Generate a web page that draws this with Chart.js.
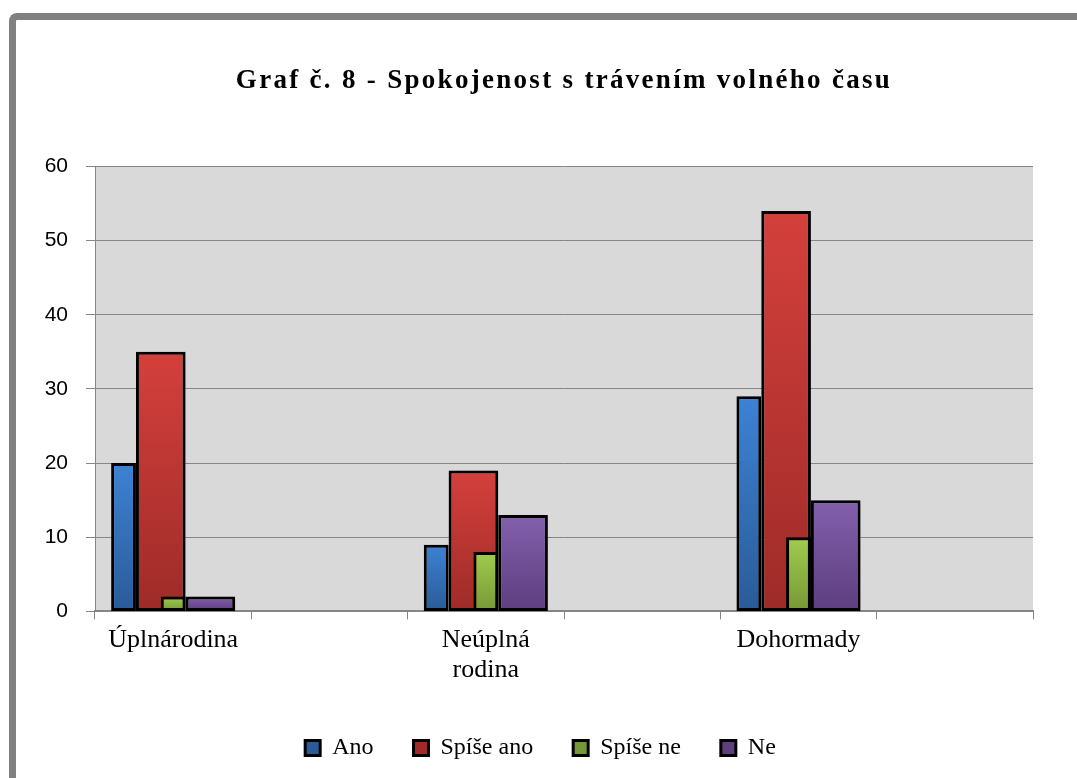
<!DOCTYPE html>
<html lang="cs">
<head>
<meta charset="utf-8">
<title>Graf č. 8 - Spokojenost s trávením volného času</title>
<script src="https://cdn.jsdelivr.net/npm/chart.js@4.4.1/dist/chart.umd.min.js"></script>
<style>
    html, body { margin: 0; padding: 0; background: #fff; }
    #wrap { position: relative; width: 1077px; height: 778px; overflow: hidden; }
    #graf { position: absolute; left: 0; top: 0; }
    /* šedý rámeček vlevo a nahoře */
    .ramecek {
        position: absolute; left: 9px; top: 13px; width: 1200px; height: 900px;
        border-left: 7px solid #808080; border-top: 7px solid #808080;
        border-top-left-radius: 8px; pointer-events: none;
    }
</style>
</head>
<body>
<div id="wrap">
    <canvas id="graf" width="1077" height="778"></canvas>
    <div class="ramecek"></div>
</div>
<script>
// ── Data ──
const kategorie = ['Úplnárodina', ['Neúplná', 'rodina'], 'Dohormady'];
const serie     = ['Ano', 'Spíše ano', 'Spíše ne', 'Ne'];
const ano       = [20, 9, 29];
const spiseAno  = [35, 19, 54];
const spiseNe   = [2, 8, 10];
const ne        = [2, 13, 15];
const osaY      = { min: 0, max: 60, krok: 10 };

// Excel graf má za každou skupinou prázdnou kategorii
const rozlozit = arr => arr.flatMap(v => [v, null]);
const popisky  = kategorie.flatMap(k => [k, '']);

// ── Barvy (přechod shora dolů) ──
function vyplnSloupce(horni, dolni, legenda) {
    return c => {
        const chart = c.chart;
        if (c.type !== 'data' || !chart.chartArea || c.raw == null) return legenda;
        const y = chart.scales.y;
        const g = chart.ctx.createLinearGradient(0, y.getPixelForValue(c.raw), 0, y.getPixelForValue(0));
        g.addColorStop(0, horni);
        g.addColorStop(1, dolni);
        return g;
    };
}

// 11 "půlslotů" ve skupině, sloupce sedí přes více slotů (jako v originále)
const POCET_SLOTU = 11;
const mezery = Array.from({ length: POCET_SLOTU }, (_, i) => ({
    label: '', data: [], stack: 's' + i
}));

const spolecne = { borderColor: '#000', borderWidth: 3, borderSkipped: false };

const datasets = [
    ...mezery,
    { ...spolecne, label: serie[0], data: rozlozit(ano),      stack: 's1', barPercentage: 2,
      backgroundColor: vyplnSloupce('#3d82d4', '#2a5b98', '#3774c0') },
    { ...spolecne, label: serie[2], data: rozlozit(spiseNe),  stack: 's5', barPercentage: 2,
      backgroundColor: vyplnSloupce('#a0cc4e', '#779836', '#8db441') },
    { ...spolecne, label: serie[1], data: rozlozit(spiseAno), stack: 's4', barPercentage: 4,
      backgroundColor: vyplnSloupce('#d4403c', '#9e2b28', '#c03834') },
    { ...spolecne, label: serie[3], data: rozlozit(ne),       stack: 's8', barPercentage: 4,
      backgroundColor: vyplnSloupce('#8360ad', '#5d3e7e', '#724f98') }
];

// ── Pozadí plochy + stín sloupců ──
const pozadiPlochy = {
    id: 'pozadiPlochy',
    beforeDraw(chart) {
        const { ctx, chartArea: a } = chart;
        ctx.save();
        ctx.fillStyle = '#d9d9d9';
        ctx.fillRect(a.left, a.top, a.right - a.left, a.bottom - a.top);
        ctx.restore();
    },
    beforeDatasetsDraw(chart) {
        const ctx = chart.ctx;
        ctx.save();
        ctx.shadowColor = 'rgba(0,0,0,0.28)';
        ctx.shadowBlur = 5;
        ctx.shadowOffsetX = 2;
        ctx.shadowOffsetY = 2;
    },
    afterDatasetsDraw(chart) {
        chart.ctx.restore();
    }
};

// ── Nadpis má širší proklad písmen, legenda je v originále posunutá doprava ──
const upravyBloku = {
    id: 'upravyBloku',
    afterInit(chart) {
        const t = chart.titleBlock;
        if (t) {
            const kresliNadpis = t.draw.bind(t);
            t.draw = function () {
                chart.ctx.letterSpacing = '2.3px';
                kresliNadpis();
                chart.ctx.letterSpacing = '0px';
            };
        }
        const l = chart.legend;
        if (l) {
            const kresliLegendu = l.draw.bind(l);
            l.draw = function () {
                chart.ctx.save();
                chart.ctx.translate(24, 0);
                kresliLegendu();
                chart.ctx.restore();
            };
        }
    }
};

new Chart(document.getElementById('graf'), {
    type: 'bar',
    data: { labels: popisky, datasets },
    options: {
        responsive: false,
        animation: false,
        categoryPercentage: 0.873,
        layout: { padding: { top: 65, right: 44, bottom: 8, left: 0 } },
        plugins: {
            title: {
                display: true,
                fullSize: false,
                text: 'Graf č. 8 - Spokojenost s trávením volného času',
                color: '#000',
                font: { family: 'Liberation Serif', size: 27, weight: 'bold', lineHeight: 1.2 },
                padding: { top: 0, bottom: 69 }
            },
            legend: {
                position: 'bottom',
                labels: {
                    color: '#000',
                    font: { family: 'Liberation Serif', size: 24, lineHeight: 1.2 },
                    boxWidth: 15, boxHeight: 15,
                    padding: 40,
                    filter: item => item.text !== '',
                    sort: (a, b) => serie.indexOf(a.text) - serie.indexOf(b.text)
                }
            },
            tooltip: { enabled: false }
        },
        scales: {
            x: {
                grid: { drawOnChartArea: false, tickLength: 8, color: '#868686', offset: true },
                border: { color: '#868686', width: 2 },
                ticks: {
                    color: '#000', padding: 6, maxRotation: 0, autoSkip: false,
                    font: { family: 'Liberation Serif', size: 26, lineHeight: 1.15 }
                },
                afterFit: s => { s.height = 84.6; }
            },
            y: {
                min: osaY.min, max: osaY.max,
                stacked: false,
                grid: { color: '#868686', tickLength: 9 },
                border: { color: '#868686', width: 1 },
                ticks: {
                    stepSize: osaY.krok, color: '#000', padding: 18,
                    font: { family: 'Liberation Sans', size: 21 }
                },
                afterFit: s => { s.width = 95; }
            }
        }
    },
    plugins: [pozadiPlochy, upravyBloku]
});
</script>
</body>
</html>
